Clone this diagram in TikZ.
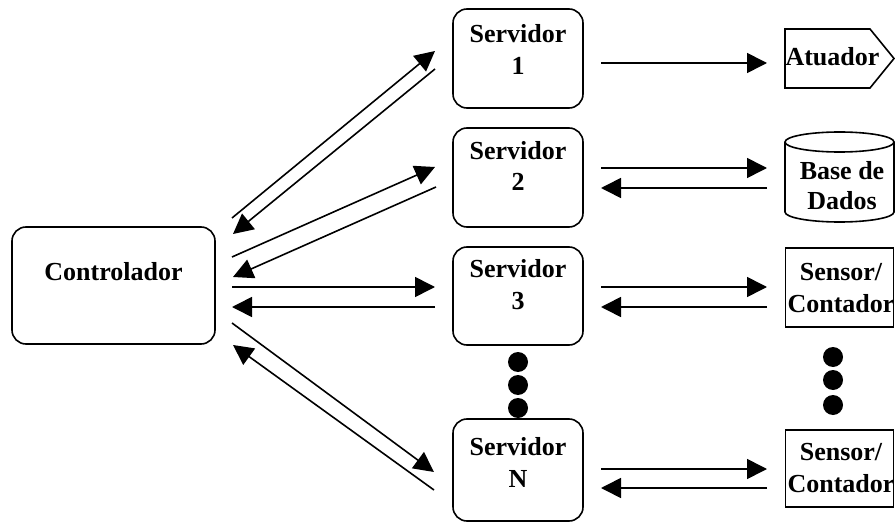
\documentclass[tikz,border=0pt]{standalone}
\usepackage{fontspec}
\setmainfont{Liberation Serif}
\usetikzlibrary{arrows.meta}
\begin{document}
\begin{tikzpicture}[x=1pt,y=-1pt,
  rbox/.style={draw, line width=1.6pt, rounded corners=14pt, inner sep=0pt},
  sbox/.style={draw, line width=1.6pt, inner sep=0pt},
  lbl/.style={font=\fontsize{26}{32}\selectfont\bfseries, align=center, inner sep=0pt, anchor=base},
  link/.style={line width=1.6pt, -{Triangle[length=20pt,width=20pt]}},
  bigdot/.style={circle, fill, inner sep=0pt, minimum size=20pt}]
\useasboundingbox (0,0) rectangle (895,524);

% controller
\node[rbox, minimum width=203pt, minimum height=117pt] (ctrl) at (113.5,285.5) {};
\node[lbl] (ctrlt) at (113.5,280) {Controlador};

% servers (label anchor = baseline of the last line)
\node[rbox, minimum width=130pt, minimum height=99pt] (s1) at (518,58.5) {};
\node[rbox, minimum width=130pt, minimum height=99pt] (s2) at (518,177.5) {};
\node[rbox, minimum width=130pt, minimum height=98pt] (s3) at (518,296) {};
\node[rbox, minimum width=130pt, minimum height=102pt] (sN) at (518,470) {};
\node[lbl] (s1t) at (518,75) {Servidor\\1};
\node[lbl] (s2t) at (518,191) {Servidor\\2};
\node[lbl] (s3t) at (518,309) {Servidor\\3};
\node[lbl] (sNt) at (518,487) {Servidor\\N};

\node[bigdot] (d1) at (518,362) {};
\node[bigdot] (d2) at (518,385) {};
\node[bigdot] (d3) at (518,408) {};

% actuator
\draw[line width=1.6pt, line join=miter] (785,29) -- (870,29) -- (894,58.5) -- (870,88) -- (785,88) -- cycle;
\node[lbl] (act) at (832.5,66) {Atuador};

% database cylinder
\draw[line width=1.6pt] (785,142) -- (785,212) arc[start angle=180, end angle=360, x radius=54.5pt, y radius=10pt] -- (894,142);
\draw[line width=1.6pt] (839.5,142) ellipse[x radius=54.5pt, y radius=10pt];
\node[lbl, font=\fontsize{26}{30}\selectfont\bfseries] (db) at (842,210) {Base de\\Dados};

% sensors
\node[sbox, minimum width=108pt, minimum height=79pt] (sen1) at (839.5,287.5) {};
\node[sbox, minimum width=108pt, minimum height=77pt] (sen2) at (839.5,468.5) {};
\node[lbl] (sen1t) at (841,312) {Sensor/\\Contador};
\node[lbl] (sen2t) at (841,492) {Sensor/\\Contador};

\node[bigdot] (e1) at (833,357) {};
\node[bigdot] (e2) at (833,380) {};
\node[bigdot] (e3) at (833,405) {};

% free ends of the links
\path (232,218) coordinate (a1) (435,51) coordinate (b1)
      (435,69) coordinate (a2) (233,234) coordinate (b2)
      (232,257) coordinate (a3) (435,167) coordinate (b3)
      (436,187) coordinate (a4) (233,277) coordinate (b4)
      (232,287) coordinate (a5) (435,287) coordinate (b5)
      (435,307) coordinate (a6) (232,307) coordinate (b6)
      (232,323) coordinate (a7) (434,472) coordinate (b7)
      (434,490) coordinate (a8) (233,345) coordinate (b8);
\path (601,63) coordinate (r1) (767,63) coordinate (q1)
      (601,168) coordinate (r2) (767,168) coordinate (q2)
      (767,188) coordinate (r3) (601,188) coordinate (q3)
      (601,287) coordinate (r4) (767,287) coordinate (q4)
      (767,307) coordinate (r5) (601,307) coordinate (q5)
      (601,469) coordinate (r6) (767,469) coordinate (q6)
      (767,488) coordinate (r7) (601,488) coordinate (q7);

\foreach \i in {1,...,8} { \draw[link] (a\i) -- (b\i); }
\foreach \i in {1,...,7} { \draw[link] (r\i) -- (q\i); }
\end{tikzpicture}
\end{document}
